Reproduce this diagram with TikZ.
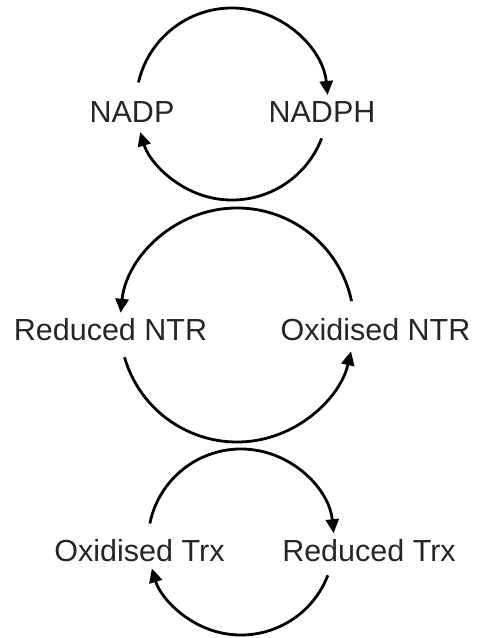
\documentclass[tikz,border=0pt]{standalone}
\usepackage{fontspec}
\setmainfont{Liberation Sans}
\usetikzlibrary{arrows.meta}
\begin{document}
\begin{tikzpicture}[x=1pt,y=1pt,
  lbl/.style={anchor=base,inner sep=0pt,text=black!85,font=\fontsize{30.5}{36}\selectfont},
  cyc/.style={line width=2.8pt,-{Triangle[length=14pt,width=13pt]}}]
\useasboundingbox (0,0) rectangle (478,638);
% circle centres
\coordinate (c1) at (232,534);
\coordinate (c2) at (237,313);
\coordinate (c3) at (241,96);
% labels
\node[lbl] (nadp) at (132,515) {NADP};
\node[lbl] (nadph) at (322,515) {NADPH};
\node[lbl] (rntr) at (110.5,297) {Reduced NTR};
\node[lbl] (ontr) at (375.5,297) {Oxidised NTR};
\node[lbl] (otrx) at (139.5,76) {Oxidised Trx};
\node[lbl] (rtrx) at (369,76) {Reduced Trx};
% top cycle
\draw[cyc] ([shift={(167:96)}]c1) arc[start angle=167,end angle=5.4,radius=96];
\draw[cyc] ([shift={(-21:96)}]c1) arc[start angle=-21,end angle=-163,radius=96];
% middle cycle
\draw[cyc] ([shift={(11.8:117)}]c2) arc[start angle=11.8,end angle=174,radius=117];
\draw[cyc] ([shift={(196:117)}]c2) arc[start angle=196,end angle=347,radius=117];
% bottom cycle
\draw[cyc] ([shift={(168.5:93)}]c3) arc[start angle=168.5,end angle=5.4,radius=93];
\draw[cyc] ([shift={(-21:93)}]c3) arc[start angle=-21,end angle=-163.5,radius=93];
\end{tikzpicture}
\end{document}
